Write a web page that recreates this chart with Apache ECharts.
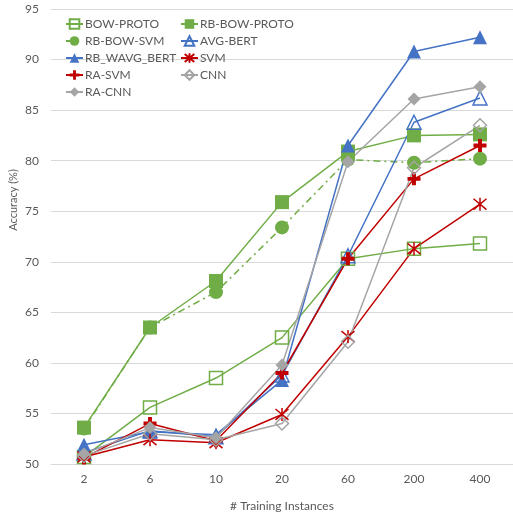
<!DOCTYPE html>
<html>
<head>
<meta charset="utf-8">
<script src="https://cdn.jsdelivr.net/npm/echarts@6/dist/echarts.min.js"></script>
<style>
  html, body { margin: 0; padding: 0; background: #fff; }
  #chart { width: 513px; height: 517px; }
</style>
</head>
<body>
<div id="chart"></div>
<script>
// Training-set sizes on the x axis
const categories = ['2', '6', '10', '20', '60', '200', '400'];

// Accuracy (%) per method
const bowProto    = [50.7, 55.6, 58.5, 62.5, 70.3, 71.3, 71.8];
const rbBowProto  = [53.6, 63.5, 68.1, 75.9, 80.9, 82.5, 82.6];
const rbBowSvm    = [53.5, 63.5, 67.0, 73.4, 80.1, 79.8, 80.2];
const avgBert     = [51.1, 53.3, 52.7, 58.8, 70.6, 83.8, 86.2];
const rbWavgBert  = [51.9, 53.2, 52.9, 58.3, 81.5, 90.8, 92.2];
const svm         = [50.7, 52.4, 52.1, 54.9, 62.6, 71.3, 75.7];
const raSvm       = [50.6, 54.0, 52.3, 59.0, 70.3, 78.2, 81.5];
const cnn         = [50.8, 53.0, 52.4, 54.0, 62.1, 79.3, 83.5];
const raCnn       = [51.0, 53.6, 52.6, 59.8, 79.9, 86.1, 87.3];

const yTicks = { min: 50, max: 95, step: 5 };

const GREEN = '#70AD47';
const BLUE = '#4472C4';
const RED = '#C00000';
const GRAY = '#A5A5A5';
const TEXT = '#595959';
const FONT = 'Lato';

// Asterisk (X with a vertical bar) and a bold plus
const ASTERISK = 'path://M0,0L10,10M10,0L0,10M5,-1L5,11';
const PLUS = 'path://M3.5,0L6.5,0L6.5,3.5L10,3.5L10,6.5L6.5,6.5L6.5,10L3.5,10L3.5,6.5L0,6.5L0,3.5L3.5,3.5Z';

function lineSeries(name, data, color, symbol, size, opts) {
  opts = opts || {};
  return {
    name: name,
    type: 'line',
    data: data,
    symbol: symbol,
    symbolSize: size,
    showAllSymbol: true,
    lineStyle: { color: color, width: 1.5, type: opts.lineType || 'solid' },
    itemStyle: opts.itemStyle || { color: color },
    emphasis: { disabled: true },
    animation: false
  };
}

const series = [
  lineSeries('BOW-PROTO', bowProto, GREEN, 'rect', 13,
    { itemStyle: { color: 'rgba(255,255,255,0)', borderColor: GREEN, borderWidth: 1.5 } }),
  lineSeries('RB-BOW-PROTO', rbBowProto, GREEN, 'rect', 14),
  lineSeries('RB-BOW-SVM', rbBowSvm, GREEN, 'circle', 14, { lineType: [7, 4, 2, 4] }),
  lineSeries('AVG-BERT', avgBert, BLUE, 'triangle', 14,
    { itemStyle: { color: 'rgba(255,255,255,0)', borderColor: BLUE, borderWidth: 1.5 } }),
  lineSeries('RB_WAVG_BERT', rbWavgBert, BLUE, 'triangle', 14),
  lineSeries('SVM', svm, RED, ASTERISK, 13,
    { itemStyle: { color: RED, borderColor: RED, borderWidth: 1.5 } }),
  lineSeries('RA-SVM', raSvm, RED, PLUS, 13),
  lineSeries('CNN', cnn, GRAY, 'diamond', 13,
    { itemStyle: { color: 'rgba(255,255,255,0)', borderColor: GRAY, borderWidth: 1.5 } }),
  lineSeries('RA-CNN', raCnn, GRAY, 'diamond', 13)
];

const legendBase = {
  orient: 'vertical',
  top: 18,
  padding: 0,
  itemWidth: 17,
  itemHeight: 12,
  itemGap: 5,
  textStyle: { color: TEXT, fontFamily: FONT, fontSize: 12, padding: [0, 0, 0, -3] },
  selectedMode: false
};

const chart = echarts.init(document.getElementById('chart'), null, { renderer: 'canvas' });
chart.setOption({
  backgroundColor: '#fff',
  textStyle: { fontFamily: FONT },
  legend: [
    Object.assign({}, legendBase, {
      left: 65,
      data: ['BOW-PROTO', 'RB-BOW-SVM', 'RB_WAVG_BERT', 'RA-SVM', 'RA-CNN']
    }),
    Object.assign({}, legendBase, {
      left: 180,
      data: ['RB-BOW-PROTO', 'AVG-BERT', 'SVM', 'CNN']
    })
  ],
  grid: { left: 51, right: -4, top: 9, bottom: 51, containLabel: false },
  xAxis: {
    type: 'category',
    data: categories,
    boundaryGap: true,
    name: '# Training Instances',
    nameLocation: 'middle',
    nameGap: 36,
    nameTextStyle: { color: TEXT, fontFamily: FONT, fontSize: 12 },
    axisLine: { show: true, lineStyle: { color: '#D9D9D9', width: 1 } },
    axisTick: { show: false },
    axisLabel: { color: TEXT, fontFamily: FONT, fontSize: 12, margin: 9 }
  },
  yAxis: {
    type: 'value',
    min: yTicks.min,
    max: yTicks.max,
    interval: yTicks.step,
    axisLine: { show: false },
    axisTick: { show: false },
    axisLabel: { color: TEXT, fontFamily: FONT, fontSize: 12, margin: 12 },
    splitLine: { lineStyle: { color: '#D9D9D9', width: 1 } }
  },
  graphic: [{
    type: 'text',
    x: 13,
    y: 200,
    rotation: Math.PI / 2,
    style: {
      text: 'Accuracy (%)',
      fill: TEXT,
      font: '11px ' + FONT,
      textAlign: 'center',
      textVerticalAlign: 'middle'
    }
  }],
  series: series
});
</script>
</body>
</html>
